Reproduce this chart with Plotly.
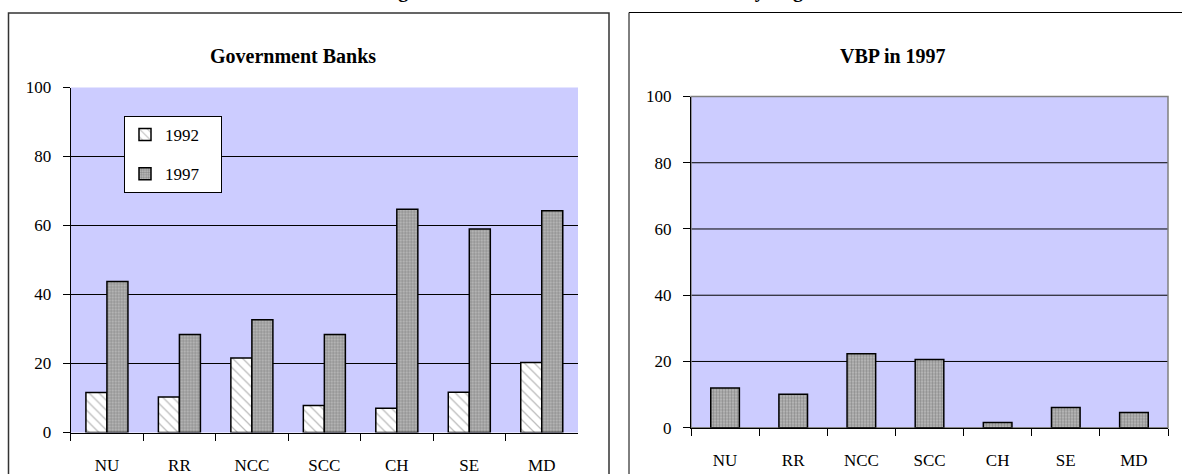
import plotly.graph_objects as go

# ---- data ----
regions = ["NU", "RR", "NCC", "SCC", "CH", "SE", "MD"]
gov_1992 = [11.6, 10.3, 21.6, 7.8, 7.0, 11.7, 20.3]
gov_1997 = [43.8, 28.4, 32.7, 28.4, 64.7, 59.0, 64.3]
vbp_1997 = [12.0, 10.1, 22.3, 20.6, 1.6, 6.1, 4.6]
series_names = ["1992", "1997"]
y_ticks = [0, 20, 40, 60, 80, 100]
grid_vals = [20, 40, 60, 80]

W, H = 1182, 474
def px(x): return x / W
def py(y): return 1 - y / H

FONT = "Liberation Serif"
BG = "#CCCCFF"
PAD = "&nbsp;" * 4  # right padding inside the legend box

hatch = dict(shape="\\", fgcolor="#7a7a7a", bgcolor="white", size=7, solidity=0.18)
dots = dict(shape=".", fgcolor="#555555", bgcolor="#c0c0c0", size=3, solidity=0.5)

fig = go.Figure()
fig.add_trace(go.Bar(x=regions, y=gov_1992, name=series_names[0] + PAD, xaxis="x", yaxis="y",
                     width=0.29, offset=-0.29, legendgroup="a",
                     marker=dict(color="white", pattern=hatch,
                                 line=dict(color="black", width=1.5))))
fig.add_trace(go.Bar(x=regions, y=gov_1997, name=series_names[1] + PAD, xaxis="x", yaxis="y",
                     width=0.29, offset=0.0, legendgroup="b",
                     marker=dict(color="#9c9c9c", pattern=dots,
                                 line=dict(color="black", width=1.5))))
fig.add_trace(go.Bar(x=regions, y=vbp_1997, name="VBP 1997", xaxis="x2", yaxis="y2",
                     width=0.42, offset=-0.21, showlegend=False,
                     marker=dict(color="#9c9c9c", pattern=dots,
                                 line=dict(color="black", width=1.5))))

xcommon = dict(type="category", range=[-0.5, 6.5], showline=True, linecolor="black",
               linewidth=1, ticks="outside", tickson="boundaries", ticklen=7,
               tickcolor="black", showgrid=False, fixedrange=True, automargin=False,
               tickfont=dict(family=FONT, size=17, color="black"), ticklabelstandoff=17)
ycommon = dict(range=[0, 100], tickvals=y_ticks, showline=True, linecolor="black",
               linewidth=1, ticks="outside", ticklen=7, tickcolor="black",
               showgrid=False, zeroline=False, fixedrange=True, automargin=False,
               tickfont=dict(family=FONT, size=17, color="black"), ticklabelstandoff=8)

fig.update_layout(
    width=W, height=H, margin=dict(l=0, r=0, t=0, b=0, autoexpand=False),
    paper_bgcolor="white", plot_bgcolor=BG, barmode="overlay",
    xaxis=dict(domain=[px(70.7), px(578)], anchor="y", **xcommon),
    yaxis=dict(domain=[py(432.5), py(87.5)], anchor="x", **ycommon),
    xaxis2=dict(domain=[px(691), px(1168)], anchor="y2", **xcommon),
    yaxis2=dict(domain=[py(427.7), py(96.5)], anchor="x2", **ycommon),
    legend=dict(x=px(124), y=py(116), xanchor="left", yanchor="top",
                bgcolor="white", bordercolor="black", borderwidth=1,
                font=dict(family=FONT, size=17, color="black"),
                tracegroupgap=14, traceorder="grouped"),
    showlegend=True,
)

shapes = []
for v in grid_vals:
    for xr, yr in (("x domain", "y"), ("x2 domain", "y2")):
        shapes.append(dict(type="line", xref=xr, yref=yr, x0=0, x1=1, y0=v, y1=v,
                           line=dict(color="black", width=1), layer="below"))
# grey plot-area border on right chart
shapes.append(dict(type="rect", xref="x2 domain", yref="y2 domain", x0=0, x1=1, y0=0, y1=1,
                   line=dict(color="#808080", width=1.5), layer="below"))
# outer chart boxes
shapes.append(dict(type="rect", xref="paper", yref="paper", x0=px(8.5), x1=px(609),
                   y0=py(480), y1=py(13), line=dict(color="#333333", width=1.5)))
shapes.append(dict(type="rect", xref="paper", yref="paper", x0=px(629), x1=px(1190),
                   y0=py(480), y1=py(12.5), line=dict(color="black", width=1)))
fig.update_layout(shapes=shapes)

fig.add_annotation(text="<b>Government Banks</b>", x=px(293), y=py(56), xref="paper", yref="paper",
                   xanchor="center", yanchor="middle",
                   showarrow=False, font=dict(family=FONT, size=20, color="black"))
fig.add_annotation(text="<b>VBP in 1997</b>", x=px(893), y=py(56), xref="paper", yref="paper",
                   xanchor="center", yanchor="middle",
                   showarrow=False, font=dict(family=FONT, size=20, color="black"))
fig.add_annotation(text="<b>Lending from Government Banks and the VBP by Region</b>",
                   x=px(583), y=py(-9), xref="paper", yref="paper",
                   xanchor="center", yanchor="middle",
                   showarrow=False, font=dict(family=FONT, size=20, color="black"))

fig.write_html("out.html")
